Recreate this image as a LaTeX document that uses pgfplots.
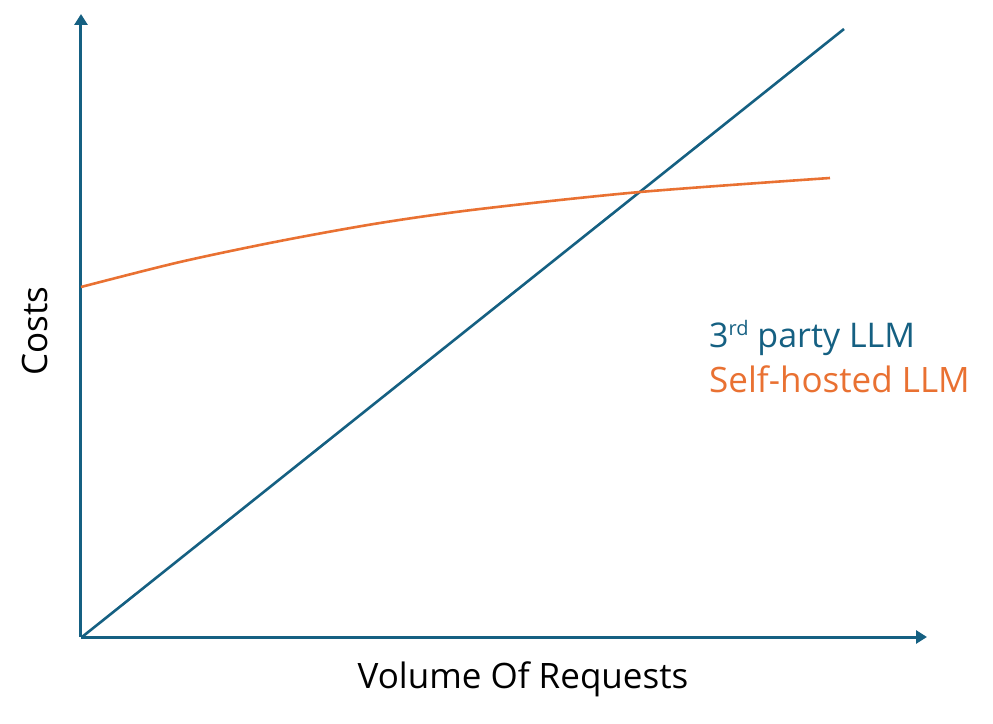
\documentclass[border=0pt]{standalone}
\usepackage{pgfplots}
\pgfplotsset{compat=1.18}
\usepackage{fontspec}
\setmainfont{Open Sans}
\usetikzlibrary{arrows.meta}
\definecolor{cblue}{HTML}{156082}
\definecolor{corange}{HTML}{E97132}
\begin{document}
\begin{tikzpicture}[x=1pt,y=1pt]
\path[use as bounding box] (-81,-86) rectangle (912,637);
\begin{axis}[scale only axis, width=846pt, height=623pt,
  xmin=0, xmax=846, ymin=0, ymax=623, hide axis, clip=false,
  at={(0,0)}, anchor=origin]
\draw[cblue, line width=3pt, -{Triangle[width=13pt,length=11pt]}] (axis cs:0,0) -- (axis cs:846,0);
\draw[cblue, line width=3pt, -{Triangle[width=13pt,length=11pt]}] (axis cs:0,0) -- (axis cs:0,623);
\addplot[cblue, line width=2.6pt] coordinates {(1,0) (763,608)};
\addplot[corange, line width=2.6pt, smooth] coordinates {(0,350) (99,375) (199,396) (299,414) (399,428) (559,445) (749,459)};
\node[anchor=base, font=\fontsize{35}{40}\selectfont] at (axis cs:442,-51) {Volume Of Requests};
\node[anchor=base, rotate=90, font=\fontsize{35}{40}\selectfont] at (axis cs:-33,306) {Costs};
\node[anchor=base west, inner sep=0pt, text=cblue, font=\fontsize{34}{40}\selectfont] at (axis cs:628,289) {3{\fontsize{20}{24}\selectfont\raisebox{12pt}{rd}} party LLM};
\node[anchor=base west, inner sep=0pt, text=corange, font=\fontsize{35}{40}\selectfont] at (axis cs:628,244) {Self-hosted LLM};
\end{axis}
\end{tikzpicture}
\end{document}
